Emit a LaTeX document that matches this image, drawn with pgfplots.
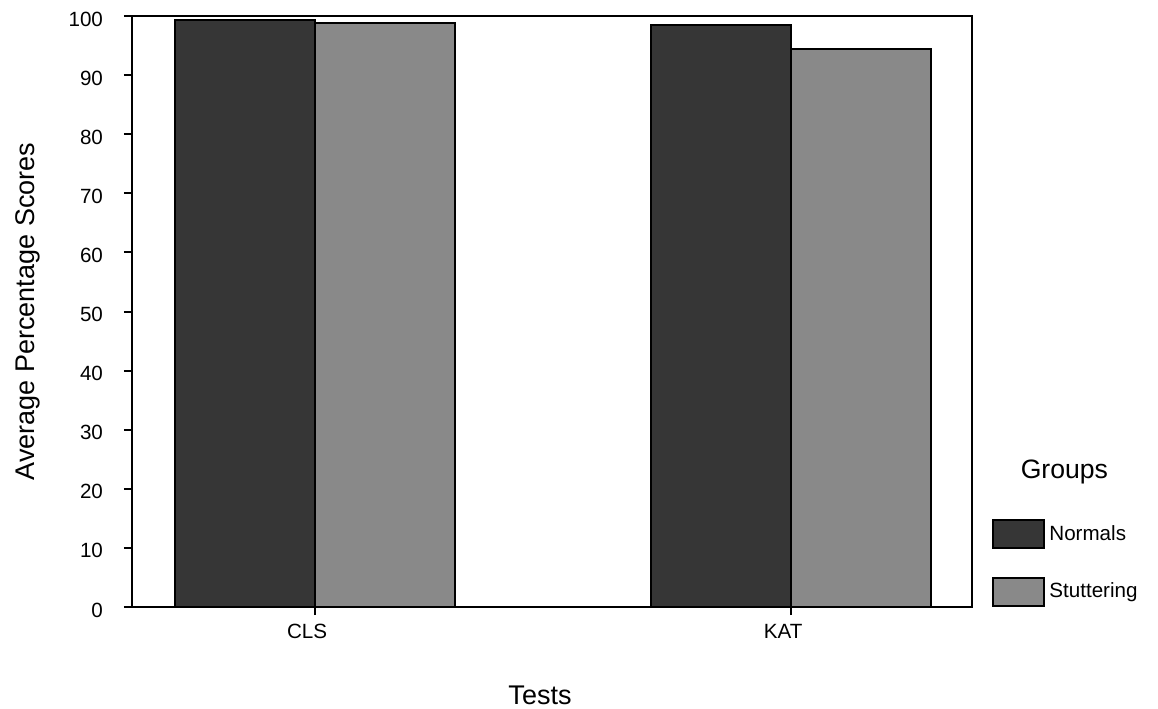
\documentclass[border=0pt]{standalone}
\usepackage{fontspec}
\setmainfont{Liberation Sans}
\usepackage{pgfplots}
\pgfplotsset{compat=1.18}
\definecolor{normals}{HTML}{363636}
\definecolor{stutter}{HTML}{898989}
\begin{document}
\begin{tikzpicture}
\begin{axis}[
  at={(0,0)}, anchor=south west,
  scale only axis, width=420pt, height=295.5pt,
  xmin=-0.3845, xmax=1.380, ymin=0, ymax=100,
  xtick={0,1}, xticklabels={CLS,KAT},
  ytick={0,10,...,100},
  ybar, bar width=0.294,
  tick align=outside, xtick pos=bottom, ytick pos=left,
  major tick length=4pt,
  axis line style={line width=1pt},
  tick style={black, line width=1pt},
  ticklabel style={font=\fontsize{10.3}{12}\selectfont},
  yticklabel style={xshift=-7pt, yshift=-1.5pt},
  xticklabel style={xshift=-4pt, yshift=-1pt},
  /pgf/number format/assume math mode=true,
  xlabel={Tests}, ylabel={Average Percentage Scores},
  label style={font=\fontsize{13.5}{16}\selectfont, inner sep=0pt},
  xlabel style={at={(axis description cs:0.4857,-0.1658)}, anchor=base},
  ylabel style={at={(axis description cs:-0.1155,0.5)}, anchor=base},
  clip=false,
  every axis plot post/.append style={legend image code/.code={\draw[##1] (0pt,-7pt) rectangle (25.5pt,7pt);}},
  legend style={draw=none, fill=none, inner sep=0pt, at={(rel axis cs:1,0)}, anchor=south west,
    xshift=10pt, row sep=13.75pt, font=\fontsize{10.3}{12}\selectfont},
  legend cell align=left,
]
\addplot[fill=normals, draw=black, line width=1pt, bar shift=-0.147] coordinates {(0,99.3) (1,98.4)};
\addlegendentry{Normals}
\addplot[fill=stutter, draw=black, line width=1pt, bar shift=0.147] coordinates {(0,98.8) (1,94.4)};
\addlegendentry{Stuttering}
\node[font=\fontsize{13.3}{16}\selectfont, inner sep=0pt, anchor=base] at (rel axis cs:1.110,0.2166) {Groups};
\end{axis}
\path (-66pt,-50.5pt) rectangle (513pt,303.5pt);
\end{tikzpicture}
\end{document}
